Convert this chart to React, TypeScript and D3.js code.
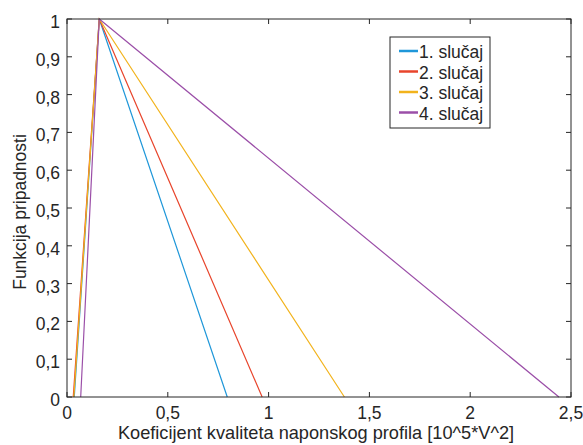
import React from "react";
import * as d3 from "d3";

const width = 583;
const height = 445;
const margin = { left: 67, top: 19, right: 12, bottom: 48 };

const seriesNames = ["1. slučaj", "2. slučaj", "3. slučaj", "4. slučaj"];
const seriesColors = ["#1f97d9", "#e8452c", "#f2b31c", "#9b4fa8"];
// triangle points: start (y=0), peak (y=1), end (y=0)
const startX = [0.036, 0.031, 0.034, 0.068];
const peakX = [0.16, 0.16, 0.16, 0.16];
const endX = [0.795, 0.968, 1.376, 2.44];

const xTicks = [0, 0.5, 1, 1.5, 2, 2.5];
const yTicks = [0, 0.1, 0.2, 0.3, 0.4, 0.5, 0.6, 0.7, 0.8, 0.9, 1];

const fmt = (v: number) => String(v).replace(".", ",");

const App = () => {
  const x = d3.scaleLinear().domain([0, 2.5]).range([margin.left, width - margin.right]);
  const y = d3.scaleLinear().domain([0, 1]).range([height - margin.bottom, margin.top]);
  const line = d3
    .line<[number, number]>()
    .x((d) => x(d[0]))
    .y((d) => y(d[1]));

  const x0 = x.range()[0];
  const x1 = x.range()[1];
  const y0 = y.range()[0];
  const y1 = y.range()[1];
  const tickLen = 5;
  const textColor = "#262626";
  const font = "Liberation Sans, Arial, sans-serif";
  const fs = 17.5;

  const legX = 390;
  const legY = 37;
  const legRow = 20.5;

  return (
    <svg
      width={width}
      height={height}
      style={{ position: "absolute", left: 0, top: 0, background: "#fff" }}
      fontFamily={font}
    >
      {seriesNames.map((name, i) => (
        <path
          key={name}
          d={line([
            [startX[i], 0],
            [peakX[i], 1],
            [endX[i], 0],
          ]) as string}
          fill="none"
          stroke={seriesColors[i]}
          strokeWidth={1.2}
        />
      ))}

      <rect x={x0} y={y1} width={x1 - x0} height={y0 - y1} fill="none" stroke="#262626" strokeWidth={1} />

      {xTicks.map((t) => (
        <g key={"x" + t}>
          <line x1={x(t)} x2={x(t)} y1={y0} y2={y0 - tickLen} stroke="#262626" />
          <line x1={x(t)} x2={x(t)} y1={y1} y2={y1 + tickLen} stroke="#262626" />
          <text x={x(t)} y={y0 + 22} textAnchor="middle" fontSize={fs} fill={textColor}>
            {fmt(t)}
          </text>
        </g>
      ))}

      {yTicks.map((t) => (
        <g key={"y" + t}>
          <line x1={x0} x2={x0 + tickLen} y1={y(t)} y2={y(t)} stroke="#262626" />
          <line x1={x1} x2={x1 - tickLen} y1={y(t)} y2={y(t)} stroke="#262626" />
          <text x={x0 - 7} y={y(t) + 9} textAnchor="end" fontSize={fs} fill={textColor}>
            {fmt(t)}
          </text>
        </g>
      ))}

      <text x={316} y={439} textAnchor="middle" fontSize={18.2} fill={textColor}>
        Koeficijent kvaliteta naponskog profila [10^5*V^2]
      </text>
      <text
        transform={`translate(26, 212) rotate(-90)`}
        textAnchor="middle"
        fontSize={fs}
        fill={textColor}
      >
        Funkcija pripadnosti
      </text>

      <rect x={legX} y={legY} width={100} height={91} fill="#fff" stroke="#262626" strokeWidth={1} />
      {seriesNames.map((name, i) => (
        <g key={"leg" + name}>
          <line
            x1={legX + 9}
            x2={legX + 28}
            y1={legY + 14 + i * legRow}
            y2={legY + 14 + i * legRow}
            stroke={seriesColors[i]}
            strokeWidth={2.5}
          />
          <text x={legX + 29} y={legY + 21 + i * legRow} fontSize={fs} fill={textColor}>
            {name}
          </text>
        </g>
      ))}
    </svg>
  );
};

export default App;
